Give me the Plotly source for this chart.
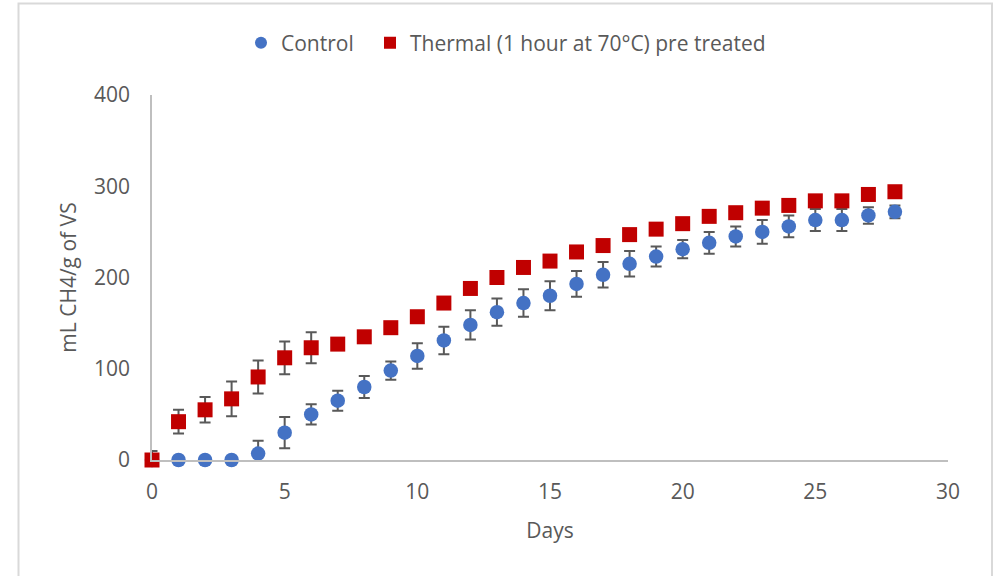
import plotly.graph_objects as go

days = list(range(0, 29))
control = [0, 0, 0, 0, 7, 30, 50, 65, 80, 98, 114, 131, 148, 162, 172, 180, 193, 203,
           215, 223, 231, 238, 245, 250, 256, 263, 263, 268, 272]
control_err = [0, 0, 0, 0, 14, 17, 11, 11, 12, 10, 14, 15, 16, 15, 15, 16, 14, 14,
               14, 11, 10, 12, 11, 13, 12, 12, 12, 9, 7]
thermal = [0, 42, 55, 67, 91, 112, 123, 127, 135, 145, 157, 172, 188, 200, 211, 218, 228, 235,
           247, 253, 259, 267, 271, 276, 279, 284, 284, 291, 294]
thermal_err = [10, 13, 14, 19, 18, 18, 17, 6, 5, 5, 5, 5, 5, 5, 5, 5, 5, 5,
               5, 5, 5, 5, 5, 5, 5, 5, 5, 5, 5]

BLUE = "#4472C4"
RED = "#C00000"
GREY = "#595959"
FONT = "Open Sans"
FS = 21

fig = go.Figure()

def add_series(name, y, err, color, symbol, size, legend):
    # error bars clipped to the plot area (like Excel)
    fig.add_trace(go.Scatter(
        x=days, y=y, mode="markers", showlegend=False, hoverinfo="skip",
        marker=dict(size=1, color="rgba(0,0,0,0)"),
        error_y=dict(type="data", array=err, visible=True, color=GREY,
                     thickness=2, width=5.5),
        cliponaxis=True,
    ))
    fig.add_trace(go.Scatter(
        x=days, y=y, mode="markers", name=name, legend=legend,
        marker=dict(size=size, color=color, symbol=symbol, line=dict(width=0)),
        cliponaxis=False,
    ))

add_series("Control", control, control_err, BLUE, "circle", 14.5, "legend")
add_series("Thermal (1 hour at 70°C) pre treated", thermal, thermal_err, RED, "square", 15, "legend2")

leg_common = dict(orientation="h", xanchor="left", y=1.142, yanchor="middle",
                  font=dict(size=FS, color=GREY), itemsizing="constant",
                  bgcolor="rgba(0,0,0,0)", borderwidth=0)

fig.update_layout(
    width=1000, height=576,
    margin=dict(l=152, r=52, t=95, b=116),
    paper_bgcolor="white", plot_bgcolor="white",
    font=dict(family=FONT, size=FS, color=GREY),
    showlegend=True,
    legend=dict(x=(241 - 152) / 796, **leg_common),
    legend2=dict(x=(370 - 152) / 796, **leg_common),
    xaxis=dict(range=[0, 30], dtick=5, tick0=0, showgrid=False, zeroline=False,
               showline=True, linecolor="#bfbfbf", linewidth=1.5,
               ticks="", ticklabelstandoff=12,
               tickfont=dict(size=FS, color=GREY),
               title=dict(text="Days", font=dict(size=FS, color=GREY), standoff=19)),
    yaxis=dict(range=[0, 400], dtick=100, tick0=0, showgrid=False, zeroline=False,
               showline=True, linecolor="#bfbfbf", linewidth=1.5,
               ticks="", ticklabelstandoff=16,
               tickfont=dict(size=FS, color=GREY),
               title=dict(text="mL CH4/g of VS", font=dict(size=FS, color=GREY), standoff=12)),
    shapes=[dict(type="rect", xref="paper", yref="paper",
                 x0=(18.5 - 152) / 796, x1=(992 - 152) / 796,
                 y0=(460 - 600) / 365, y1=(460 - 3.5) / 365,
                 line=dict(color="#d9d9d9", width=2), fillcolor="rgba(0,0,0,0)",
                 layer="below")],
)

fig.write_html("out.html")
